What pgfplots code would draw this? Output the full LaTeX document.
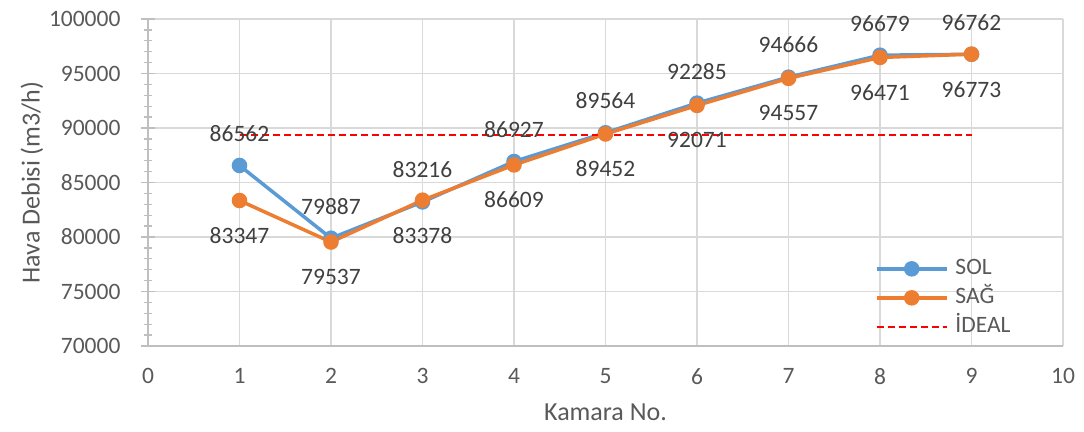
\documentclass[border=0pt]{standalone}
\usepackage{fontspec}
\setmainfont{Carlito}
\usepackage{pgfplots}
\pgfplotsset{compat=1.18}
\usepackage{pgfplotstable}
\definecolor{solblue}{HTML}{5B9BD5}
\definecolor{sagorange}{HTML}{ED7D31}
\definecolor{gridgray}{HTML}{D9D9D9}
\definecolor{axisgray}{HTML}{BFBFBF}
\definecolor{textgray}{HTML}{595959}
\definecolor{labelgray}{HTML}{404040}

\pgfplotstableread{
x y
1 86562
2 79887
3 83216
4 86927
5 89564
6 92285
7 94666
8 96679
9 96762
}\soldata

\pgfplotstableread{
x y
1 83347
2 79537
3 83378
4 86609
5 89452
6 92071
7 94557
8 96471
9 96773
}\sagdata

\pgfplotstableread{
x y
1 89375
9 89375
}\idealdata

\begin{document}
\begin{tikzpicture}[font=\fontsize{23.5}{28}\selectfont]
\begin{axis}[
  name=ax,
  scale only axis,
  width=915pt, height=327pt,
  xmin=0, xmax=10, ymin=70000, ymax=100000,
  xtick={0,1,2,3,4,5,6,7,8,9,10},
  xticklabels={0,1,2,3,4,5,6,7,8,9,10},
  ytick={70000,75000,80000,85000,90000,95000,100000},
  yticklabels={70000,75000,80000,85000,90000,95000,100000},
  minor y tick num=4,
  scaled y ticks=false,
  axis x line*=bottom, axis y line*=left,
  axis line style={axisgray, line width=1.5pt, -},
  grid=major,
  major grid style={gridgray, line width=1.3pt},
  ytick align=center,
  major tick length=14pt, minor tick length=9pt,
  major y tick style={axisgray, line width=1.3pt},
  minor y tick style={axisgray, line width=1.3pt},
  major x tick style={draw=none},
  tick label style={text=textgray},
  xticklabel style={yshift=-19pt},
  yticklabel style={xshift=-17pt},
  xlabel={Kamara No.},
  ylabel={Hava Debisi (m3/h)},
  xlabel style={at={(axis description cs:0.5,-0.2018)}, anchor=center, text=textgray, font=\fontsize{26}{31}\selectfont},
  ylabel style={at={(axis description cs:-0.1268,0.5)}, anchor=center, text=textgray, font=\fontsize{26}{31}\selectfont},
  clip=false,
  legend cell align=left,
  legend style={draw=none, fill=none, at={(rel axis cs:0.791,0.287)}, anchor=north west,
    nodes={inner ysep=3.5pt, inner xsep=7pt, text height=17pt, text depth=5pt, text=textgray}},
  legend image code/.code={
    \draw[mark repeat=2, mark phase=2, #1] plot coordinates {(0pt,0pt) (35pt,0pt) (70pt,0pt)};
  },
]
\addplot[color=solblue, line width=3.5pt, mark=*, mark size=6pt,
  point meta=explicit symbolic, nodes near coords={\pgfplotspointmeta},
  every node near coord/.append style={anchor=center, yshift=32pt, text=labelgray}]
  table[x=x, y=y, meta=y] {\soldata};
\addlegendentry{SOL}
\addplot[color=sagorange, line width=3.5pt, mark=*, mark size=6pt,
  point meta=explicit symbolic, nodes near coords={\pgfplotspointmeta},
  every node near coord/.append style={anchor=center, yshift=-35pt, text=labelgray}]
  table[x=x, y=y, meta=y] {\sagdata};
\addlegendentry{SAĞ}
\addplot[color=red, line width=2.5pt, dash pattern=on 7pt off 4pt] table[x=x, y=y] {\idealdata};
\addlegendentry{İDEAL}
\end{axis}
\pgfresetboundingbox
\path[use as bounding box] ([shift={(-148pt,-85pt)}]ax.south west) rectangle ([shift={(21pt,19pt)}]ax.north east);
\end{tikzpicture}
\end{document}
